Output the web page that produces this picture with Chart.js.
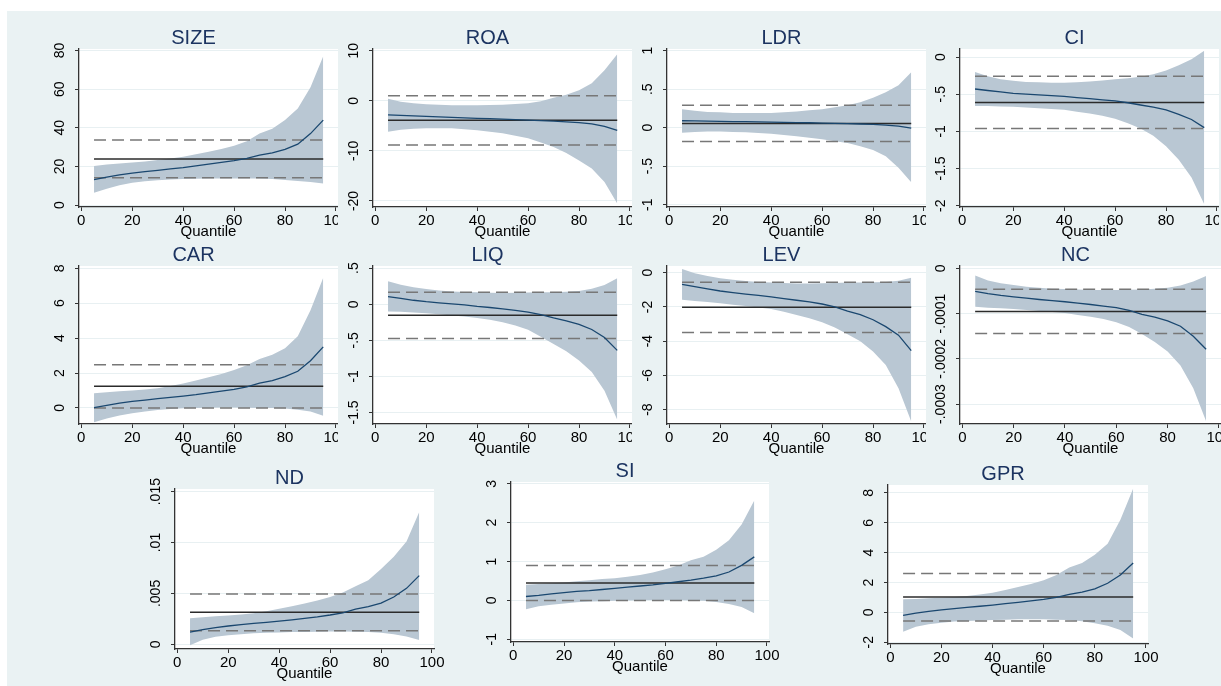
<!DOCTYPE html>
<html>
<head>
<meta charset="utf-8">
<script src="https://cdn.jsdelivr.net/npm/chart.js@4.4.0/dist/chart.umd.min.js"></script>
<style>
  html, body { margin: 0; padding: 0; background: #fff; }
  body { width: 1221px; height: 686px; position: relative; overflow: hidden; }
  #bg { position: absolute; left: 7px; top: 11px; right: 0; bottom: 0; background: #eaf2f3; }
  canvas { position: absolute; }
</style>
</head>
<body>
<div id="bg"></div>
<script>
// quantiles on the x axis
const quantiles = [5, 10, 15, 20, 25, 30, 35, 40, 45, 50, 55, 60, 65, 70, 75, 80, 85, 90, 95];
const xTicks = [0, 20, 40, 60, 80, 100];

// SIZE
const sizeCoef = [13.2, 14.5, 15.6, 16.5, 17.3, 18.0, 18.7, 19.4, 20.3, 21.2, 22.1, 23.0, 24.2, 25.8, 27.0, 28.8, 31.5, 37.0, 44.0];
const sizeHi = [20.2, 21, 21.5, 22, 22.6, 23.3, 24.1, 25, 26.3, 27.6, 29, 30.7, 33, 37, 39.5, 44, 50, 61, 77];
const sizeLo = [6.4, 8.5, 10.3, 11.5, 12.3, 12.9, 13.3, 13.5, 13.6, 13.7, 13.7, 13.7, 13.8, 13.8, 13.5, 13, 12.5, 12, 11.2];
const sizeOls = [23.8, 14.2, 33.7];
const sizeTicks = [0, 20, 40, 60, 80];

// ROA
const roaCoef = [-2.8, -2.9, -3.0, -3.1, -3.2, -3.3, -3.4, -3.5, -3.55, -3.65, -3.75, -3.85, -3.95, -4.05, -4.2, -4.35, -4.6, -5.1, -5.9];
const roaHi = [0.4, -0.2, -0.5, -0.7, -0.8, -0.9, -0.9, -0.9, -0.85, -0.8, -0.65, -0.5, -0.1, 0.6, 1.2, 2.1, 3.5, 6.1, 9.3];
const roaLo = [-6.2, -5.8, -5.6, -5.5, -5.5, -5.5, -5.7, -5.9, -6.2, -6.5, -7.0, -7.5, -8.3, -9.2, -10.4, -11.9, -13.5, -16.2, -20.5];
const roaOls = [-3.9, -8.8, 1.0];
const roaTicks = [-20, -10, 0, 10];

// LDR
const ldrCoef = [0.09, 0.088, 0.085, 0.082, 0.08, 0.078, 0.075, 0.072, 0.07, 0.067, 0.064, 0.06, 0.057, 0.053, 0.048, 0.042, 0.033, 0.02, -0.005];
const ldrHi = [0.24, 0.22, 0.205, 0.2, 0.19, 0.19, 0.19, 0.19, 0.2, 0.21, 0.225, 0.24, 0.265, 0.29, 0.33, 0.39, 0.46, 0.55, 0.72];
const ldrLo = [-0.065, -0.055, -0.05, -0.05, -0.055, -0.06, -0.07, -0.08, -0.095, -0.11, -0.13, -0.15, -0.175, -0.2, -0.24, -0.29, -0.37, -0.52, -0.71];
const ldrOls = [0.056, -0.18, 0.29];
const ldrTicks = [-1, -0.5, 0, 0.5, 1];

// CI
const ciCoef = [-0.43, -0.45, -0.47, -0.49, -0.5, -0.51, -0.52, -0.53, -0.545, -0.56, -0.575, -0.59, -0.615, -0.645, -0.675, -0.71, -0.77, -0.84, -0.95];
const ciHi = [-0.2, -0.26, -0.3, -0.32, -0.335, -0.34, -0.345, -0.345, -0.34, -0.33, -0.315, -0.3, -0.285, -0.265, -0.23, -0.18, -0.11, -0.03, 0.085];
const ciLo = [-0.66, -0.66, -0.665, -0.67, -0.68, -0.69, -0.7, -0.71, -0.735, -0.76, -0.79, -0.83, -0.89, -0.96, -1.06, -1.2, -1.38, -1.62, -1.98];
const ciOls = [-0.61, -0.96, -0.26];
const ciTicks = [-2, -1.5, -1, -0.5, 0];

// CAR
const carCoef = [0.02, 0.15, 0.27, 0.37, 0.45, 0.53, 0.6, 0.68, 0.76, 0.86, 0.96, 1.06, 1.2, 1.42, 1.57, 1.79, 2.1, 2.7, 3.5];
const carHi = [0.84, 0.9, 0.95, 1.0, 1.06, 1.13, 1.25, 1.4, 1.57, 1.76, 1.95, 2.18, 2.45, 2.8, 3.05, 3.42, 4.1, 5.6, 7.45];
const carLo = [-0.82, -0.6, -0.43, -0.3, -0.2, -0.12, -0.06, -0.02, 0.0, 0.01, 0.02, 0.02, 0.01, 0.0, -0.01, -0.03, -0.1, -0.2, -0.45];
const carOls = [1.24, 0.0, 2.47];
const carTicks = [0, 2, 4, 6, 8];

// LIQ
const liqCoef = [0.105, 0.08, 0.055, 0.035, 0.02, 0.005, -0.01, -0.03, -0.045, -0.065, -0.085, -0.11, -0.145, -0.19, -0.23, -0.28, -0.35, -0.46, -0.64];
const liqHi = [0.32, 0.27, 0.235, 0.21, 0.19, 0.175, 0.17, 0.165, 0.16, 0.157, 0.16, 0.163, 0.165, 0.167, 0.172, 0.185, 0.215, 0.265, 0.36];
const liqLo = [-0.1, -0.105, -0.115, -0.125, -0.14, -0.155, -0.17, -0.19, -0.215, -0.25, -0.295, -0.355, -0.45, -0.55, -0.65, -0.78, -0.94, -1.2, -1.6];
const liqOls = [-0.152, -0.476, 0.166];
const liqTicks = [-1.5, -1, -0.5, 0, 0.5];

// LEV
const levCoef = [-0.68, -0.82, -0.95, -1.07, -1.16, -1.25, -1.33, -1.41, -1.51, -1.61, -1.71, -1.83, -2.0, -2.25, -2.45, -2.75, -3.15, -3.65, -4.55];
const levHi = [0.21, -0.04, -0.2, -0.33, -0.42, -0.49, -0.54, -0.58, -0.61, -0.63, -0.63, -0.62, -0.6, -0.58, -0.57, -0.56, -0.54, -0.47, -0.29];
const levLo = [-1.58, -1.65, -1.72, -1.79, -1.87, -1.95, -2.03, -2.12, -2.28, -2.47, -2.66, -2.9, -3.2, -3.6, -4.0, -4.6, -5.4, -6.75, -8.7];
const levOls = [-2.02, -3.5, -0.56];
const levTicks = [-8, -6, -4, -2, 0];

// NC
const ncCoef = [-0.000051, -0.000056, -0.00006, -0.000063, -0.000066, -0.000069, -0.0000715, -0.000074, -0.000077, -0.00008, -0.0000835, -0.000087, -0.000093, -0.000102, -0.000108, -0.000116, -0.000128, -0.00015, -0.000179];
const ncHi = [-0.000016, -0.000027, -0.000033, -0.000037, -0.000041, -0.000043, -0.000045, -0.000046, -0.000047, -0.000048, -0.000048, -0.000048, -0.0000475, -0.000047, -0.0000455, -0.000043, -0.000038, -0.000029, -0.000017];
const ncLo = [-0.000085, -0.000087, -0.0000885, -0.00009, -0.000092, -0.0000945, -0.0000965, -0.000099, -0.000103, -0.000107, -0.000112, -0.000119, -0.00013, -0.000145, -0.000163, -0.000184, -0.000215, -0.000265, -0.000338];
const ncOls = [-0.0000956, -0.000144, -0.0000463];
const ncTicks = [-0.0003, -0.0002, -0.0001, 0];

// ND
const ndCoef = [0.0012, 0.00145, 0.00165, 0.0018, 0.00193, 0.00205, 0.00215, 0.00227, 0.0024, 0.00255, 0.0027, 0.00288, 0.0031, 0.00345, 0.0037, 0.00405, 0.00465, 0.0055, 0.00675];
const ndHi = [0.00255, 0.00265, 0.00275, 0.00282, 0.00292, 0.00305, 0.00325, 0.0035, 0.00375, 0.004, 0.0043, 0.00465, 0.0051, 0.0057, 0.0063, 0.0074, 0.0086, 0.0101, 0.013];
const ndLo = [-0.0001, 0.00045, 0.00075, 0.0009, 0.001, 0.00108, 0.00113, 0.00117, 0.0012, 0.00122, 0.00124, 0.00125, 0.00125, 0.00124, 0.0012, 0.00114, 0.001, 0.00078, 0.00042];
const ndOls = [0.00314, 0.00134, 0.00494];
const ndTicks = [0, 0.005, 0.01, 0.015];

// SI
const siCoef = [0.1, 0.13, 0.17, 0.2, 0.23, 0.25, 0.28, 0.31, 0.34, 0.37, 0.4, 0.44, 0.48, 0.52, 0.57, 0.63, 0.73, 0.9, 1.12];
const siHi = [0.4, 0.42, 0.44, 0.46, 0.49, 0.52, 0.55, 0.57, 0.61, 0.65, 0.72, 0.8, 0.9, 1.03, 1.12, 1.3, 1.55, 1.95, 2.57];
const siLo = [-0.23, -0.15, -0.11, -0.08, -0.05, -0.03, -0.02, -0.01, 0.0, 0.005, 0.01, 0.01, 0.01, 0.0, -0.01, -0.04, -0.09, -0.17, -0.33];
const siOls = [0.45, 0.0, 0.9];
const siTicks = [-1, 0, 1, 2, 3];

// GPR
const gprCoef = [-0.2, -0.05, 0.06, 0.16, 0.25, 0.33, 0.41, 0.49, 0.58, 0.67, 0.77, 0.87, 1.0, 1.2, 1.36, 1.58, 1.95, 2.5, 3.3];
const gprHi = [0.87, 0.9, 0.94, 0.98, 1.03, 1.1, 1.2, 1.31, 1.5, 1.7, 1.9, 2.15, 2.5, 3.0, 3.3, 3.85, 4.6, 6.2, 8.3];
const gprLo = [-1.3, -0.97, -0.8, -0.69, -0.62, -0.58, -0.54, -0.51, -0.49, -0.47, -0.47, -0.47, -0.49, -0.52, -0.6, -0.73, -0.9, -1.18, -1.75];
const gprOls = [1.02, -0.58, 2.6];
const gprTicks = [-2, 0, 2, 4, 6, 8];

const FONT = '"Liberation Sans", Arial, sans-serif';
Chart.defaults.font.family = FONT;

// plot boxes (left, top, right, bottom of the white area), y ranges, room kept for the "100" label
const panels = [
  { title: 'SIZE', coef: sizeCoef, hi: sizeHi, lo: sizeLo, ols: sizeOls, ticks: sizeTicks, min: -1.0, max: 80.8, box: [79, 49, 338, 207], extra: 0 },
  { title: 'ROA', coef: roaCoef, hi: roaHi, lo: roaLo, ols: roaOls, ticks: roaTicks, min: -21.2, max: 10.34, box: [373, 49, 632, 207], extra: 0 },
  { title: 'LDR', coef: ldrCoef, hi: ldrHi, lo: ldrLo, ols: ldrOls, ticks: ldrTicks, min: -1.03, max: 1.022, box: [667, 49, 926, 207], extra: 0 },
  { title: 'CI', coef: ciCoef, hi: ciHi, lo: ciLo, ols: ciOls, ticks: ciTicks, min: -2.017, max: 0.108, box: [960, 49, 1219, 207], extra: 0 },
  { title: 'CAR', coef: carCoef, hi: carHi, lo: carLo, ols: carOls, ticks: carTicks, min: -0.92, max: 8.13, box: [79, 266, 338, 424], extra: 0 },
  { title: 'LIQ', coef: liqCoef, hi: liqHi, lo: liqLo, ols: liqOls, ticks: liqTicks, min: -1.66, max: 0.53, box: [373, 266, 632, 424], extra: 0 },
  { title: 'LEV', coef: levCoef, hi: levHi, lo: levLo, ols: levOls, ticks: levTicks, min: -8.84, max: 0.39, box: [667, 266, 926, 424], extra: 0 },
  { title: 'NC', coef: ncCoef, hi: ncHi, lo: ncLo, ols: ncOls, ticks: ncTicks, min: -0.000344, max: 0.000005, box: [960, 266, 1221, 424], extra: 0 },
  { title: 'ND', coef: ndCoef, hi: ndHi, lo: ndLo, ols: ndOls, ticks: ndTicks, min: -0.00046, max: 0.01526, box: [175, 489, 434, 649], extra: 16 },
  { title: 'SI', coef: siCoef, hi: siHi, lo: siLo, ols: siOls, ticks: siTicks, min: -1.07, max: 3.045, box: [511, 482, 769, 642], extra: 16 },
  { title: 'GPR', coef: gprCoef, hi: gprHi, lo: gprLo, ols: gprOls, ticks: gprTicks, min: -2.12, max: 8.53, box: [888, 485, 1148, 644], extra: 16 }
];

// stata style numbers: .5, -.0001
function stataLabel(v) {
  return String(v).replace(/^(-?)0\./, '$1.');
}

const plotBg = {
  id: 'plotBg',
  beforeDraw(chart) {
    const a = chart.chartArea, ctx = chart.ctx;
    ctx.save();
    ctx.fillStyle = '#fff';
    ctx.fillRect(a.left, a.top, a.right - a.left, a.bottom - a.top);
    ctx.restore();
  }
};

// vertical y tick labels
const yLabels = {
  id: 'yLabels',
  afterDraw(chart) {
    const s = chart.scales.y, ctx = chart.ctx;
    ctx.save();
    ctx.fillStyle = '#000';
    ctx.font = '14px ' + FONT;
    ctx.textAlign = 'center';
    ctx.textBaseline = 'middle';
    s.ticks.forEach(t => {
      ctx.save();
      ctx.translate(s.right - 19, s.getPixelForValue(t.value));
      ctx.rotate(-Math.PI / 2);
      ctx.fillText(stataLabel(t.value), 0, 0);
      ctx.restore();
    });
    ctx.restore();
  }
};

function makeChart(p) {
  const [L, T, R, B] = p.box;
  const w = R - L + 30 + p.extra, h = B - T + 21 + 32;
  const cv = document.createElement('canvas');
  cv.style.left = (L - 30) + 'px';
  cv.style.top = (T - 21) + 'px';
  cv.style.width = w + 'px';
  cv.style.height = h + 'px';
  cv.width = w;
  cv.height = h;
  document.body.appendChild(cv);

  const pts = arr => quantiles.map((q, i) => ({ x: q, y: arr[i] }));
  const flat = v => [{ x: quantiles[0], y: v }, { x: quantiles[quantiles.length - 1], y: v }];
  const dashed = v => ({ data: flat(v), borderColor: '#777', borderWidth: 1.5, borderDash: [12, 6], pointRadius: 0, fill: false });

  new Chart(cv, {
    type: 'line',
    data: {
      datasets: [
        { data: pts(p.coef), borderColor: '#1a476f', borderWidth: 1.3, pointRadius: 0, fill: false },
        dashed(p.ols[2]),
        dashed(p.ols[1]),
        { data: flat(p.ols[0]), borderColor: '#2b2b2b', borderWidth: 1.5, pointRadius: 0, fill: false },
        { data: pts(p.hi), borderColor: 'transparent', borderWidth: 1, pointRadius: 0, fill: '+1', backgroundColor: '#b9c7d3' },
        { data: pts(p.lo), borderColor: 'transparent', borderWidth: 1, pointRadius: 0, fill: false }
      ]
    },
    options: {
      responsive: false,
      animation: false,
      layout: { padding: { right: p.extra } },
      plugins: {
        legend: { display: false },
        tooltip: { enabled: false },
        title: {
          display: true, text: p.title, color: '#1c3461',
          font: { family: FONT, size: 20, weight: 'normal', lineHeight: 1 },
          padding: { top: 0, bottom: 1 }
        }
      },
      scales: {
        x: {
          type: 'linear', min: -0.9, max: 100.8,
          afterBuildTicks: s => { s.ticks = xTicks.map(v => ({ value: v })); },
          afterFit: s => { s.height = 32; s.paddingLeft = 0; s.paddingRight = 0; },
          grid: { drawOnChartArea: false, drawTicks: true, tickLength: 4, tickColor: '#333' },
          border: { color: '#333', width: 1.3 },
          ticks: { color: '#000', font: { size: 15 }, padding: 1, maxRotation: 0, autoSkip: false },
          title: { display: true, text: 'Quantile', color: '#000', font: { size: 15, lineHeight: 1 }, padding: 0 }
        },
        y: {
          type: 'linear', min: p.min, max: p.max,
          afterBuildTicks: s => { s.ticks = p.ticks.map(v => ({ value: v })); },
          afterFit: s => { s.width = 30; },
          grid: { color: '#e8f0f2', lineWidth: 1, tickLength: 4, tickColor: '#333' },
          border: { color: '#333', width: 1.3 },
          ticks: { display: false }
        }
      }
    },
    plugins: [plotBg, yLabels]
  });
}

panels.forEach(makeChart);
</script>
</body>
</html>
